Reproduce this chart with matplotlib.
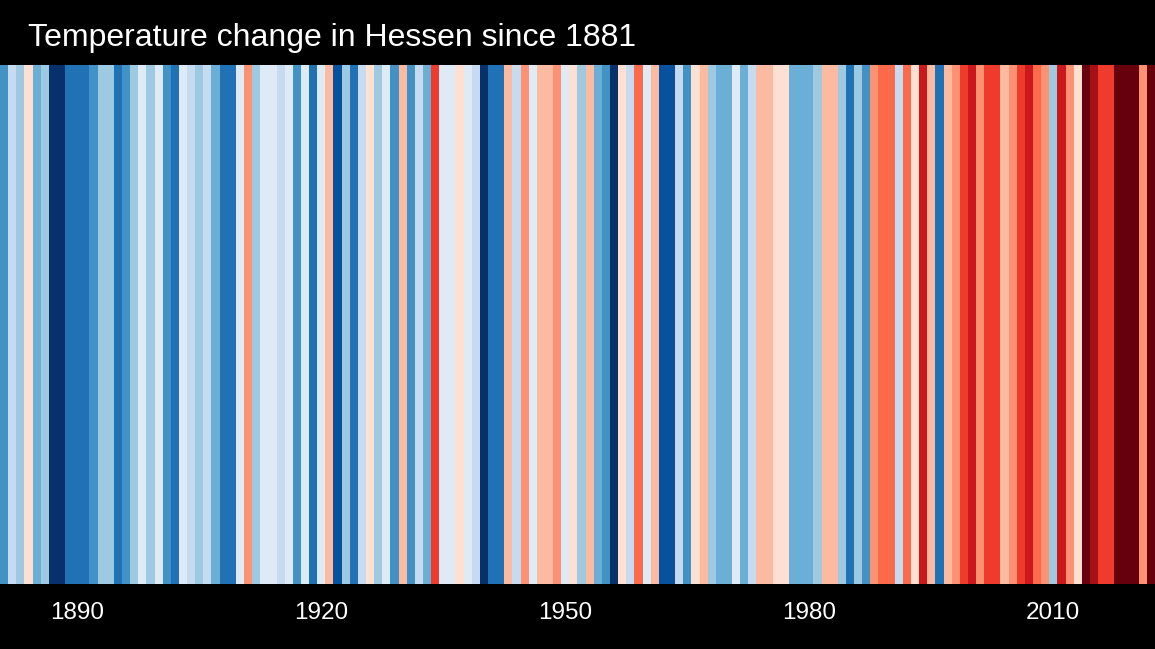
import matplotlib.pyplot as plt
import numpy as np
from matplotlib.colors import ListedColormap, BoundaryNorm

# years shown, one stripe each
years = np.arange(1881, 2023)

# colour class per year read from the stripes: -8 (darkest blue) .. +8 (darkest red)
stripe_level = [
    -5, -2, -3, 1, -4, -3, -8, -8, -6, -6,      # 1881-1890
    -6, -5, -3, -3, -6, -5, -3, -1, -3, -1,     # 1891-1900
    -5, -6, -1, -2, -3, -2, -4, -6, -6, -1,     # 1901-1910
    3, -3, -1, -1, -2, -1, -5, -1, -6, -1,      # 1911-1920
    2, -7, -3, -6, -2, 1, -3, -1, -5, 2,        # 1921-1930
    -5, -2, -4, 5, -1, -1, 1, -1, -2, -8,       # 1931-1940
    -6, -6, 2, -2, 3, -1, 2, 2, 3, -1,          # 1941-1950
    1, -3, 2, -4, -5, -8, 1, -2, 4, -1,         # 1951-1960
    2, -7, -7, -2, -5, 1, 2, -3, -4, -4,        # 1961-1970
    -1, -4, -2, 2, 2, 1, 1, -4, -4, -4,         # 1971-1980
    -3, 2, 2, -3, -6, -3, -5, 3, 4, 4,          # 1981-1990
    -2, 4, 1, 6, 2, -6, 2, 3, 5, 6,             # 1991-2000
    3, 5, 5, 2, 3, 5, 6, 4, 3, -3,              # 2001-2010
    6, 3, 1, 8, 7, 5, 5, 8, 8, 8,               # 2011-2020
    3, 8,                                        # 2021-2022
]

tick_years = [1890, 1920, 1950, 1980, 2010]
title = "Temperature change in Hessen since 1881"

stripe_colors = [
    "#08306b", "#08519c", "#2171b5", "#4292c6",
    "#6baed6", "#9ecae1", "#c6dbef", "#deebf7",
    "#fee0d2", "#fcbba1", "#fc9272", "#fb6a4a",
    "#ef3b2c", "#cb181d", "#a50f15", "#67000d",
]
cmap = ListedColormap(stripe_colors)
bounds = [-8.5, -7.5, -6.5, -5.5, -4.5, -3.5, -2.5, -1.5, 0,
          1.5, 2.5, 3.5, 4.5, 5.5, 6.5, 7.5, 8.5]
norm = BoundaryNorm(bounds, cmap.N)

plt.rcParams['font.family'] = ['Liberation Sans', 'DejaVu Sans']

fig = plt.figure(figsize=(11.55, 6.49), dpi=100, facecolor="black")
ax = fig.add_axes([0, 65 / 649, 1, 1 - 65 / 649 - 65 / 649])
ax.set_facecolor("black")

ax.bar(years, 1, width=1.0, align="center",
       color=cmap(norm(np.array(stripe_level))), linewidth=0)

ax.set_xlim(years[0] - 0.5, years[-1] + 0.5)
ax.set_ylim(0, 1)
ax.set_yticks([])
ax.set_xticks(tick_years)
ax.set_xticklabels([str(y) for y in tick_years])
ax.tick_params(axis="x", length=0, pad=13, labelsize=17.5, labelcolor="white")
for s in ax.spines.values():
    s.set_visible(False)

fig.text(28 / 1155, 1 - 46 / 649, title, color="white", fontsize=23,
         ha="left", va="baseline")

fig.savefig("out.png", dpi=100, facecolor="black")
